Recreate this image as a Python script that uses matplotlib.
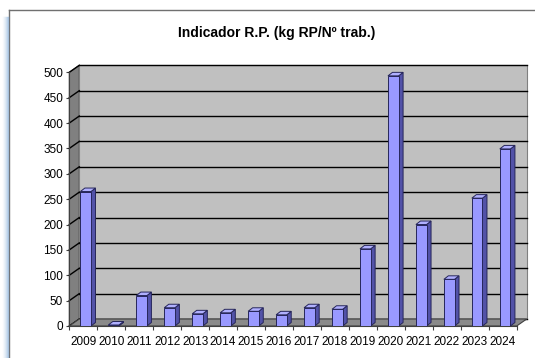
import matplotlib.pyplot as plt
import numpy as np
from matplotlib.lines import Line2D
from matplotlib.patches import Polygon, Rectangle

years = ["2009", "2010", "2011", "2012", "2013", "2014", "2015", "2016",
         "2017", "2018", "2019", "2020", "2021", "2022", "2023", "2024"]
values = [265, 2, 60, 36, 24, 26, 29, 22, 36, 33, 152, 493, 200, 92, 252, 349]
y_ticks = list(range(0, 501, 50))
title = "Indicador R.P. (kg RP/Nº trab.)"

FONT = ["Liberation Sans", "DejaVu Sans"]
plt.rcParams["font.family"] = FONT

W, H = 535, 358
fig = plt.figure(figsize=(W / 100, H / 100), dpi=100)
fig.patch.set_facecolor("white")

# front plane of the plot area, in figure pixels
ax_left, ax_right = 69.3, 516.7
ax_bottom, ax_top = 326.0, 72.3
ax = fig.add_axes([ax_left / W, 1 - ax_bottom / H,
                   (ax_right - ax_left) / W, (ax_bottom - ax_top) / H])
ax.patch.set_visible(False)

n = len(years)
x = np.arange(n)
x0, x1 = -0.5, n - 0.5
ymax = 500
ax.set_xlim(x0, x1)
ax.set_ylim(0, ymax)

# pixel -> data conversions for the fake 3D depth
ux = (x1 - x0) / (ax_right - ax_left)
uy = ymax / (ax_bottom - ax_top)
dx, dy = 10 * ux, 7 * uy          # wall depth
bdx, bdy = 4.5 * ux, 3.5 * uy     # bar depth
shift = 2.4 * ux
bar_w = 0.38

wall_kw = dict(clip_on=False, linewidth=0.8)
ax.add_patch(Polygon([(x0, 0), (x0 + dx, dy), (x0 + dx, ymax + dy), (x0, ymax)],
                     closed=True, facecolor="#808080", edgecolor="#404040",
                     zorder=1, **wall_kw))
ax.add_patch(Rectangle((x0 + dx, dy), x1 - x0, ymax, facecolor="#c0c0c0",
                       edgecolor="#808080", zorder=1, **wall_kw))

for v in y_ticks:
    ax.add_line(Line2D([x0 + dx, x1 + dx], [v + dy, v + dy], color="black",
                       linewidth=1.0, zorder=2, clip_on=False))
    ax.add_line(Line2D([x0, x0 + dx], [v, v + dy], color="black",
                       linewidth=1.0, zorder=2, clip_on=False))

ax.add_patch(Polygon([(x0, 0), (x1, 0), (x1 + dx, dy), (x0 + dx, dy)],
                     closed=True, facecolor="#8a8a8a", edgecolor="#404040",
                     zorder=2.5, **wall_kw))

# bars: front face from ax.bar, side and top faces from the same values
edge = "#26265a"
ax.bar(x + shift, values, width=bar_w, color="#9999ff", edgecolor=edge,
       linewidth=0.7, zorder=4)
for xi, v in zip(x + shift, values):
    r = xi + bar_w / 2
    l = xi - bar_w / 2
    ax.add_patch(Polygon([(r, 0), (r + bdx, bdy), (r + bdx, v + bdy), (r, v)],
                         closed=True, facecolor="#5252a8", edgecolor=edge,
                         linewidth=0.7, zorder=3.5, clip_on=False))
    ax.add_patch(Polygon([(l, v), (r, v), (r + bdx, v + bdy), (l + bdx, v + bdy)],
                         closed=True, facecolor="#b0b0ff", edgecolor=edge,
                         linewidth=0.7, zorder=3.5, clip_on=False))

for side in ("top", "right"):
    ax.spines[side].set_visible(False)
for side in ("left", "bottom"):
    ax.spines[side].set_color("#404040")
    ax.spines[side].set_linewidth(0.8)
    ax.spines[side].set_zorder(3)

ax.set_yticks(y_ticks)
ax.set_yticklabels([str(v) for v in y_ticks])
ax.tick_params(axis="y", length=2.2, width=0.8, pad=2.2, labelsize=8.5,
               color="#404040")
ax.set_xticks(x)
ax.set_xticklabels(years)
ax.set_xticks(np.arange(x0, x1 + 0.01, 1.0), minor=True)
ax.tick_params(axis="x", which="major", length=0, pad=7, labelsize=8.5)
ax.tick_params(axis="x", which="minor", length=3, width=0.8, color="#404040")

fig.text(276.5 / W, 1 - 33 / H, title, ha="center", va="center",
         fontsize=10, fontweight="bold")

# chart frame with the soft blue shadow on its left edge
fig.add_artist(Line2D([9 / W, 1], [1 - 10.3 / H, 1 - 10.3 / H],
                      color="#707070", linewidth=1.0))
fig.add_artist(Line2D([9 / W, 9 / W], [1 - 10.3 / H, 0],
                      color="#707070", linewidth=1.0))
for i, a in enumerate([0.55, 0.4, 0.28, 0.18, 0.1, 0.05]):
    xs = (8 - i) / W
    fig.add_artist(Line2D([xs, xs], [1 - 17 / H, 0], color="#7aa8d8",
                          alpha=a, linewidth=1.0))

fig.savefig("out.png", dpi=100)
